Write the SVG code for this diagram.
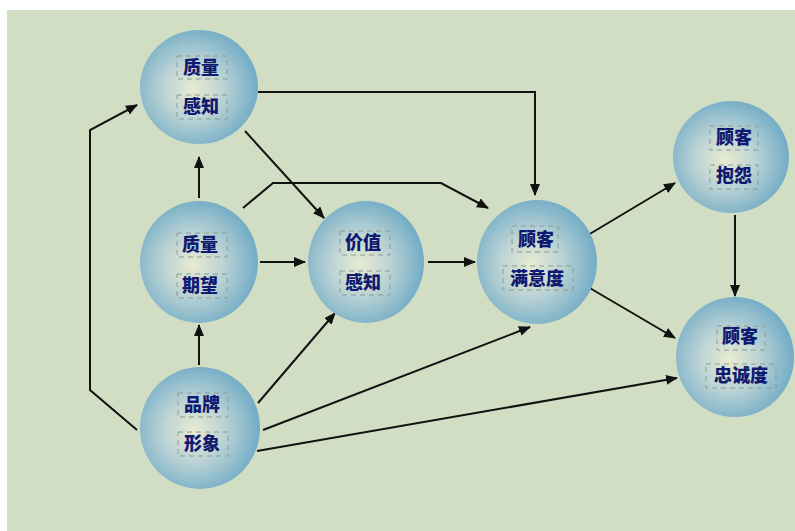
<svg xmlns="http://www.w3.org/2000/svg" width="795" height="531" viewBox="0 0 795 531">
<defs>
<radialGradient id="ball" cx="45%" cy="52%" r="55%">
<stop offset="0" stop-color="#e8ebd0"/>
<stop offset="0.45" stop-color="#bdd4d5"/>
<stop offset="1" stop-color="#72acc6"/>
</radialGradient>
<marker id="ah" viewBox="0 0 12 10" refX="11" refY="5" markerWidth="12" markerHeight="10" markerUnits="userSpaceOnUse" orient="auto">
<path d="M0,0 L12,5 L0,10 Z" fill="#111"/>
</marker>
</defs>
<style>
.node ellipse{fill:url(#ball);}
.lbl{font-family:"Noto Sans CJK SC","Noto Sans CJK TC",sans-serif;font-weight:900;font-size:18px;fill:#101a70;text-anchor:middle;}
.box{fill:none;stroke:#8c9c94;stroke-width:1;stroke-dasharray:5 4;}
.c{fill:none;stroke:#111;stroke-width:2;marker-end:url(#ah);}
</style>
<rect x="0" y="0" width="795" height="531" fill="#ffffff"/>
<rect x="7" y="10" width="788" height="521" fill="#d2dec4"/>

<g id="connectors">
<polyline class="c" points="258,92 535,92 535,195"/>
<line class="c" x1="245" y1="131" x2="324" y2="218"/>
<polyline class="c" points="243,208 273,183 441,183 488,208"/>
<line class="c" x1="199" y1="198" x2="199" y2="157"/>
<line class="c" x1="199" y1="365" x2="199" y2="325"/>
<line class="c" x1="260" y1="262" x2="305" y2="262"/>
<line class="c" x1="428" y1="262" x2="475" y2="262"/>
<polyline class="c" points="137,430 90,390 90,130 137,105"/>
<line class="c" x1="258" y1="403" x2="335" y2="313"/>
<line class="c" x1="263" y1="430" x2="530" y2="327"/>
<line class="c" x1="257" y1="451" x2="677" y2="378"/>
<line class="c" x1="588" y1="235" x2="675" y2="183"/>
<line class="c" x1="588" y1="287" x2="675" y2="338"/>
<line class="c" x1="735" y1="215" x2="735" y2="296"/>
</g>

<g id="n-quality-perception" class="node">
<ellipse cx="199" cy="87" rx="59" ry="57"/>
<rect class="box" x="177" y="56" width="50" height="23"/>
<rect class="box" x="177" y="95" width="50" height="24"/>
<text class="lbl" x="201" y="74">质量</text>
<text class="lbl" x="201" y="113">感知</text>
</g>

<g id="n-quality-expectation" class="node">
<ellipse cx="199" cy="262" rx="59" ry="61"/>
<rect class="box" x="177" y="233" width="50" height="24"/>
<rect class="box" x="177" y="274" width="50" height="24"/>
<text class="lbl" x="200" y="251">质量</text>
<text class="lbl" x="200" y="292">期望</text>
</g>

<g id="n-brand-image" class="node">
<ellipse cx="200" cy="428" rx="60" ry="61"/>
<rect class="box" x="178" y="393" width="50" height="24"/>
<rect class="box" x="178" y="432" width="50" height="24"/>
<text class="lbl" x="202" y="411">品牌</text>
<text class="lbl" x="202" y="450">形象</text>
</g>

<g id="n-value-perception" class="node">
<ellipse cx="366" cy="262" rx="58" ry="61"/>
<rect class="box" x="340" y="231" width="50" height="24"/>
<rect class="box" x="340" y="271" width="50" height="24"/>
<text class="lbl" x="363" y="249">价值</text>
<text class="lbl" x="363" y="289">感知</text>
</g>

<g id="n-satisfaction" class="node">
<ellipse cx="537" cy="262" rx="60" ry="62"/>
<rect class="box" x="512" y="226" width="46" height="26"/>
<rect class="box" x="503" y="266" width="70" height="24"/>
<text class="lbl" x="536" y="246">顾客</text>
<text class="lbl" x="537" y="285">满意度</text>
</g>

<g id="n-complaint" class="node">
<ellipse cx="731" cy="157" rx="58" ry="56"/>
<rect class="box" x="710" y="126" width="48" height="24"/>
<rect class="box" x="710" y="165" width="48" height="24"/>
<text class="lbl" x="734" y="144">顾客</text>
<text class="lbl" x="734" y="182">抱怨</text>
</g>

<g id="n-loyalty" class="node">
<ellipse cx="735" cy="357" rx="59" ry="60"/>
<rect class="box" x="717" y="326" width="48" height="24"/>
<rect class="box" x="706" y="364" width="70" height="24"/>
<text class="lbl" x="740" y="343">顾客</text>
<text class="lbl" x="741" y="382">忠诚度</text>
</g>
</svg>
